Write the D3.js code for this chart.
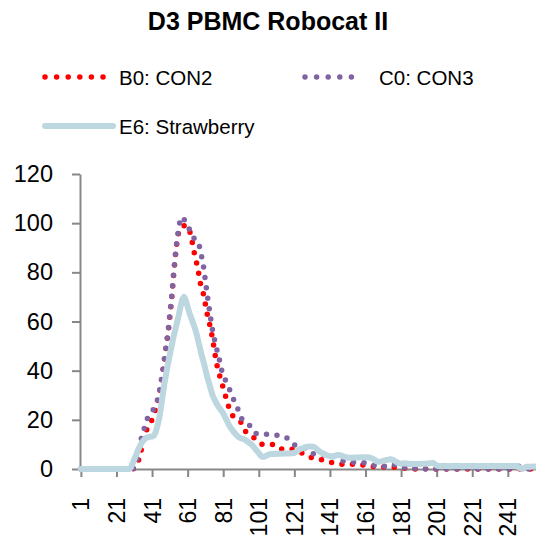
<!DOCTYPE html>
<html>
<head>
<meta charset="utf-8">
<script src="https://cdn.jsdelivr.net/npm/d3@7/dist/d3.min.js"></script>
<style>
  html, body { margin: 0; padding: 0; background: #fff; }
  svg { display: block; font-family: "Liberation Sans", Arial, sans-serif; }
</style>
</head>
<body>
<svg id="chart" width="536" height="538"></svg>
<script>
// Histogram channels 1..256
const channels = d3.range(1, 257);

const titleText = "D3 PBMC Robocat II";
const seriesNames = ["B0: CON2", "C0: CON3", "E6: Strawberry"];
const seriesColors = ["#ff0000", "#8064a2", "#bdd7e0"];

const yTicks = [0, 20, 40, 60, 80, 100, 120];
const xTicks = [1, 21, 41, 61, 81, 101, 121, 141, 161, 181, 201, 221, 241];

// B0: CON2 counts per channel
const b0 = [
  0,0,0,0,0,0,0,0,0,0, 0,0,0,0,0,0,0,0,0,0, 0,0,0,0,0,0,0,0,0,0,
  0.3,1,2.5,5,8,11.5,14,16,17.5,18.8,
  20,22,24,26.5,30,34.5,39.5,44.5,50,55,
  62,69,78,86,92.5,96.5,98,98.5,99,99,
  99,97,95,90.5,87,84,80.5,76,73,71,
  67,63,60,57,53,48.5,44,40.5,38,35.5,
  33,30.5,28,25.5,23.5,22,21,20.3,19.8,19.4,
  19,17.5,15.8,14.9,14.2,13.6,13.1,12.8,12.5,11.8,
  11,10.4,10,10,10,10,10,10,10,9.9,
  9.6,9.1,8.6,8.1,8.1,8.1,8.1,8.1,8.1,8,
  7.7,7.3,7,6.7,6.6,6.3,6,5.5,5.1,4.8,
  4.6,4.4,4.2,4,3.9,3.8,3.6,3.4,3.2,3,
  2.8,2.6,2.4,2.2,2.1,2,1.9,1.9,1.9,1.9,
  1.9,1.9,1.9,1.9,1.8,1.8,1.7,1.7,1.6,1.6,
  1.5,1.4,1.3,1.2,1.1,1,1,0.9,0.9,0.8,
  0.8,0.8,0.8,0.8,0.8,0.7,0.7,0.6,0.6,0.5,
  0.4,0.4,0.3,0.3,0.2,0.2,0.1,0,0,0,
  0,0,0,0,0.1,0.2,0.1,0,0,0,
  0,0,0,0,0,0,0,0,0,0,
  0,0,0,0,0,0,0,0,0,0,
  0,0,0,0,0,0,0,0,0,0,
  0,0,0,0,0,0,0,0,0,0,
  0,0,0,0,0,0,0,0,0,0,
  0,0,0,0,0,0
];

// C0: CON3 counts per channel
const c0 = [
  0,0,0,0,0,0,0,0,0,0, 0,0,0,0,0,0,0,0,0,0, 0,0,0,0,0,0,0,0,0,0,
  0.5,2,5.5,9.5,12.5,15,17.5,20,21.5,22.5,
  23.5,24.5,26,28,31,35,39.5,45,50.5,56,
  63,70,78.5,86,93,98,102,102.5,101.5,100.5,
  99.5,97.5,95.5,94.5,93.5,93,92.5,89.5,86,82,
  76.5,71,66,61,56.5,53,50,46.8,44,40.5,
  38,36.5,35,33.5,31.5,29.8,28,26.3,24.8,23,
  20.8,20,19.3,18.6,18.1,17.6,16.6,15.4,14.6,14.2,
  14.2,14.2,14.2,14.2,14.2,14.1,14,14,13.9,13.8,
  13.8,13.6,13.4,13.2,13.1,12.9,12.5,11.8,11,10.2,
  9.8,9.6,9.4,9.2,9,8.8,8.5,8,7.3,6.7,
  6.3,6.1,6,6,5.9,5.9,5.8,5.8,5.8,5.7,
  5.7,5.7,5.4,5,4.5,4,3.5,3.3,3.2,3.1,
  3,2.9,2.8,2.7,2.7,2.7,2.7,2.7,2.7,2.6,
  2.4,2.2,2,1.8,1.7,1.5,1.3,1.1,1,0.9,
  1,1.2,1.5,1.8,2,2,1.8,1.5,1.2,1,
  0.8,0.7,0.6,0.5,0.4,0.3,0.3,0.2,0.2,0.2,
  0.1,0.1,0.1,0,0,0,0,0,0,0,
  0,0,0,0,0,0,0,0,0,0,
  0,0,0,0,0,0,0,0.3,0.4,0.2,
  0,0,0,0,0,0,0,0,0,0,
  0,0,0,0,0,0,0,0,0,0,
  0,0,0,0,0.4,1,1.2,0.8,0.4,0.2,
  0,0,0,0.2,0.5,0.6
];

// E6: Strawberry counts per channel
const e6 = [
  0,0,0,0,0,0,0,0,0,0, 0,0,0,0,0,0,0,0,0,0, 0,0,0,0,0,0,0,0,
  0.5,2,
  4,5.5,7.5,9,10.5,11.5,12.3,12.8,13,13.1,
  13.2,13.5,15,17.5,20.5,25,30,35,39,43,
  46.5,50,53.5,56.5,59.5,62.5,66,69,70,68.5,
  66,63.5,61.5,59.5,57.5,55,52,49,46,43.5,
  40.5,37.5,35,32.5,30,28.5,27,25.8,24.7,23.7,
  22.7,21.2,19.7,18.2,17,16,15,14.2,13.5,12.8,
  12.5,12.3,12,11.5,11,10.5,10,9.1,8.2,7.3,
  6.5,5.5,5,5,5.3,5.7,6,6.1,6.1,6.1,
  6.2,6.2,6.2,6.2,6.3,6.3,6.3,6.3,6.4,6.4,
  6.6,7,7.5,8,8.3,8.5,8.9,9.1,9.1,9.2,
  9.1,9,8.5,7.8,7.2,6.8,6.4,6,5.7,5.4,
  5.2,5,5,5.4,5.7,5.7,5.5,5.3,5,4.8,
  4.7,4.6,4.6,4.6,4.7,4.7,4.7,4.8,4.8,4.8,
  4.8,4.8,4.7,4.5,4.2,3.8,3.2,3,3,3.1,
  3.3,3.5,3.7,3.8,4,3.8,3.5,3,2.6,2.3,
  2.1,2.2,2.3,2.2,2.1,2,2,2,2,2,
  2,2,2.1,2.1,2.1,2.2,2.3,2.4,2.5,2,
  1.4,1.2,1.2,1.2,1.3,1.2,1.2,1.1,1.2,1.2,
  1.2,1.3,1.2,1.2,1.2,1.1,1.2,1.2,1.2,1.2,
  1.3,1.2,1.2,1.2,1.1,1.2,1.2,1.2,1.2,1.2,
  1.2,1.3,1.2,1.2,1.2,1.2,1.1,1.2,1.2,1.2,
  1.2,1.2,1.2,1.2,1.2,1.2,0.8,0.3,0,0.4,
  0.8,0.9,0.9,0.9,1,1
];

const seriesValues = [b0, c0, e6];

const svg = d3.select("#chart");

const x = d3.scaleLinear().domain([0.5, 256.5]).range([80, 535.4]);
const y = d3.scaleLinear().domain([0, 120]).range([469, 174]);

const axisColor = "#878787";

// Title
svg.append("text")
  .attr("x", 268).attr("y", 30)
  .attr("text-anchor", "middle")
  .attr("font-size", 25).attr("font-weight", "bold")
  .attr("fill", "#000")
  .text(titleText);

// Legend
const legendItems = [
  { x1: 45, x2: 105, tx: 119, cy: 77 },
  { x1: 305, x2: 363, tx: 379, cy: 77 },
  { x1: 45, x2: 113, tx: 119, cy: 126 }
];
legendItems.forEach((it, i) => {
  const dotted = i < 2;
  svg.append("line")
    .attr("x1", it.x1).attr("x2", it.x2)
    .attr("y1", it.cy).attr("y2", it.cy)
    .attr("stroke", seriesColors[i])
    .attr("stroke-width", dotted ? 5.5 : 6)
    .attr("stroke-linecap", "round")
    .attr("stroke-dasharray", dotted ? "0 11.6" : null);
  svg.append("text")
    .attr("x", it.tx).attr("y", it.cy + 8)
    .attr("font-size", 20.5)
    .attr("fill", "#000")
    .text(seriesNames[i]);
});

// Y axis
const yAxis = svg.append("g")
  .attr("transform", `translate(${x(0.5)},0)`)
  .call(d3.axisLeft(y).tickValues(yTicks).tickSize(8).tickSizeOuter(0).tickPadding(19));
yAxis.select(".domain").attr("stroke", axisColor).attr("stroke-width", 2);
yAxis.selectAll(".tick line").attr("stroke", axisColor).attr("stroke-width", 2);
yAxis.selectAll(".tick text")
  .attr("font-size", 23.5)
  .attr("font-family", "'Liberation Sans', Arial, sans-serif")
  .attr("fill", "#000");

// X axis
const xAxis = svg.append("g")
  .attr("transform", `translate(0,${y(0)})`)
  .call(d3.axisBottom(x).tickValues(xTicks).tickSize(8).tickSizeOuter(0));
xAxis.select(".domain").attr("stroke", axisColor).attr("stroke-width", 2);
xAxis.selectAll(".tick line").attr("stroke", axisColor).attr("stroke-width", 2);
xAxis.selectAll(".tick text")
  .attr("font-size", 23)
  .attr("font-family", "'Liberation Sans', Arial, sans-serif")
  .attr("fill", "#000")
  .attr("text-anchor", "end")
  .attr("transform", "rotate(-90)")
  .attr("x", -29)
  .attr("y", 0)
  .attr("dy", "0.35em");

// Series lines
const line = d3.line()
  .x((d, i) => x(channels[i]))
  .y(d => y(d));

const plot = svg.append("g");
seriesValues.forEach((vals, i) => {
  const dotted = i < 2;
  plot.append("path")
    .datum(vals)
    .attr("d", line)
    .attr("fill", "none")
    .attr("stroke", seriesColors[i])
    .attr("stroke-width", dotted ? 5.5 : 6)
    .attr("stroke-linecap", "round")
    .attr("stroke-linejoin", "round")
    .attr("stroke-dasharray", dotted ? "0 10.5" : null);
});
</script>
</body>
</html>
